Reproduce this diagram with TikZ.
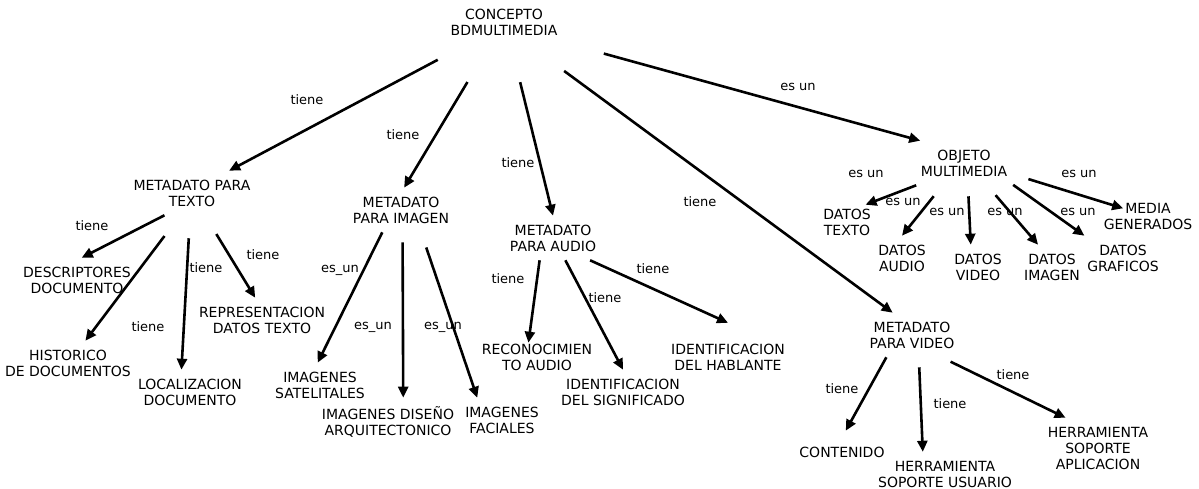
\documentclass[tikz,border=0pt]{standalone}
\usepackage{fontspec}
\setmainfont{DejaVu Sans}
\usetikzlibrary{arrows.meta}

\begin{document}
\begin{tikzpicture}[x=1pt, y=-1pt,
  concept/.style={align=center, inner sep=3pt, outer xsep=3pt, outer ysep=6pt, font=\fontsize{14}{16}\selectfont},
  rel/.style={inner sep=1pt, font=\fontsize{13}{16}\selectfont},
  link/.style={line width=2.6pt, -{Triangle[length=11pt,width=10pt]}}]
  \useasboundingbox (0,0) rectangle (1199,489);

  % main concepts
  \node[concept] (cpt) at (504,22) {CONCEPTO\\BDMULTIMEDIA};
  \node[concept] (mpt) at (192,193) {METADATO PARA\\TEXTO};
  \node[concept] (mpi) at (401,210) {METADATO\\PARA IMAGEN};
  \node[concept] (mpa) at (553,238) {METADATO\\PARA AUDIO};
  \node[concept] (obj) at (964,163) {OBJETO\\MULTIMEDIA};
  \node[concept] (mpv) at (912,335) {METADATO\\PARA VIDEO};

  % leaves
  \node[concept] (desc) at (77,280) {DESCRIPTORES\\DOCUMENTO};
  \node[concept] (hist) at (68,363) {HISTORICO\\DE DOCUMENTOS};
  \node[concept] (loc) at (190,392) {LOCALIZACION\\DOCUMENTO};
  \node[concept] (rep) at (262,320) {REPRESENTACION\\DATOS TEXTO};
  \node[concept] (sat) at (320,385) {IMAGENES\\SATELITALES};
  \node[concept] (dis) at (388,422) {IMAGENES DISEÑO\\ARQUITECTONICO};
  \node[concept] (fac) at (502,420) {IMAGENES\\FACIALES};
  \node[concept, outer ysep=0pt, inner ysep=1pt] (rec) at (537,357) {RECONOCIMIEN\\TO AUDIO};
  \node[concept] (sig) at (623,392) {IDENTIFICACION\\DEL SIGNIFICADO};
  \node[concept, outer ysep=18pt] (hab) at (728,357) {IDENTIFICACION\\DEL HABLANTE};
  \node[concept, outer sep=1pt] (dtx) at (847,222) {DATOS\\TEXTO};
  \node[concept] (dau) at (902,258) {DATOS\\AUDIO};
  \node[concept] (dvi) at (978,267) {DATOS\\VIDEO};
  \node[concept] (dim) at (1052,267) {DATOS\\IMAGEN};
  \node[concept] (dgr) at (1123,258) {DATOS\\GRAFICOS};
  \node[concept] (med) at (1148,216) {MEDIA\\GENERADOS};
  \node[concept, outer ysep=13pt] (con) at (842,452) {CONTENIDO};
  \node[concept] (hsu) at (945,474) {HERRAMIENTA\\SOPORTE USUARIO};
  \node[concept] (hsa) at (1098,448) {HERRAMIENTA\\SOPORTE\\APLICACION};

  % links
  \draw[link, shorten <=33pt] (cpt.211) -- (mpt.31);
  \draw[link, shorten <=44pt] (cpt.238) -- (mpi.82);
  \draw[link, shorten <=39pt] (cpt.-73) -- (mpa.north);
  \draw[link, shorten <=45pt] (cpt.-43) -- (mpv.131);
  \draw[link, shorten <=42pt] (cpt.-19) -- (obj.153);

  \draw[link] (mpt.219) -- (desc.78);
  \draw[link, shorten <=26pt] (mpt.242) -- (hist.52);
  \draw[link, shorten <=23pt] (mpt.265) -- (loc.111);
  \draw[link, shorten <=22pt] (mpt.-60) -- (rep.107);

  \draw[link] (mpi.230) -- (sat.96);
  \draw[link, shorten <=10pt] (mpi.-86) -- (dis.58);
  \draw[link, shorten <=16pt] (mpi.-48) -- (fac.138);

  \draw[link] (mpa.239) -- (rec.121);
  \draw[link] (mpa.-61) -- (sig.north);
  \draw[link] (mpa.-31) -- (hab.north);

  \draw[link] (obj.205) -- (dtx.43);
  \draw[link, shorten <=14pt] (obj.226) -- (dau.north);
  \draw[link, shorten <=11pt] (obj.-80) -- (dvi.108);
  \draw[link, shorten <=13pt] (obj.-44) -- (dim.122);
  \draw[link] (obj.-24) -- (dgr.150);
  \draw[link, shorten <=16pt, shorten >=26pt] (obj.-13) -- (med.center);

  \draw[link] (mpv.221) -- (con.80);
  \draw[link, shorten <=10pt] (mpv.-73) -- (hsu.135);
  \draw[link, shorten <=10pt] (mpv.-37) -- (hsa.137);

  % link phrases
  \node[rel] (r1) at (307,100) {tiene};
  \node[rel] (r2) at (403,135) {tiene};
  \node[rel] (r3) at (518,163) {tiene};
  \node[rel] (r4) at (700,202) {tiene};
  \node[rel] (r5) at (798,87) {es un};
  \node[rel] (r6) at (92,226) {tiene};
  \node[rel] (r7) at (148,327) {tiene};
  \node[rel] (r8) at (206,268) {tiene};
  \node[rel] (r9) at (263,255) {tiene};
  \node[rel] (r10) at (340,270) {es\_un};
  \node[rel] (r11) at (373,327) {es\_un};
  \node[rel] (r12) at (443,327) {es\_un};
  \node[rel] (r13) at (508,279) {tiene};
  \node[rel] (r14) at (605,298) {tiene};
  \node[rel] (r15) at (653,269) {tiene};
  \node[rel] (r16) at (866,174) {es un};
  \node[rel] (r17) at (903,202) {es un};
  \node[rel] (r18) at (947,212) {es un};
  \node[rel] (r19) at (1005,212) {es un};
  \node[rel] (r20) at (1078,212) {es un};
  \node[rel] (r21) at (1079,174) {es un};
  \node[rel] (r22) at (842,389) {tiene};
  \node[rel] (r23) at (950,404) {tiene};
  \node[rel] (r24) at (1013,375) {tiene};
\end{tikzpicture}
\end{document}
